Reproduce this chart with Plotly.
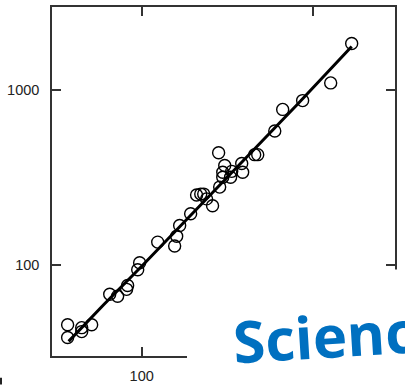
import plotly.graph_objects as go

# Scatter data (log-log axes)
x_vals = [37.0, 37.0, 44.7, 44.7, 51.1, 65.1, 72.4, 81.7, 82.8, 94.8, 97.3,
          124, 155.7, 160, 166.5, 193, 209, 221, 230, 239, 259, 285, 281,
          305, 297, 297, 330, 335, 383, 388, 456, 475, 597, 664, 868, 1265, 1677]
y_vals = [45.3, 38.3, 43.6, 41.4, 45.3, 67.8, 66.0, 72.3, 76.1, 93.7, 102.6,
          134.8, 128, 145.7, 168, 196, 251, 254, 254, 238.5, 217.8, 278.6, 438.8,
          370.8, 338.6, 317, 317, 342.9, 380.6, 338.6, 427.5, 427.5, 584, 776.6,
          872.5, 1102, 1853]

# Fitted line
line_x = [37.5, 60, 100, 204, 400, 800, 1677]
line_y = [36.4, 59, 98, 204, 405, 820, 1781]

tick_vals = [100, 1000]
tick_text = ["100", "1000"]
watermark = "Science"

L, R, T, B = 52, 10, 5, 29
W, H = 405, 389
pw, ph = W - L - R, H - T - B

def px2paper_x(px):
    return (px - L) / pw

def px2paper_y(py):
    return (H - B - py) / ph

fig = go.Figure()
fig.add_trace(go.Scatter(x=line_x, y=line_y, mode="lines",
                         line=dict(color="black", width=3), hoverinfo="skip"))
fig.add_trace(go.Scatter(x=x_vals, y=y_vals, mode="markers",
                         marker=dict(symbol="circle-open", size=12,
                                     color="black", line=dict(width=1.4))))

axis_common = dict(type="log", showgrid=False, zeroline=False, showline=True,
                   linecolor="#333", linewidth=1.5, mirror="ticks",
                   ticks="inside", ticklen=9, tickwidth=1.5, tickcolor="#333",
                   tickvals=tick_vals, ticktext=tick_text,
                   tickfont=dict(family="Liberation Sans, Arial", size=14.5, color="#222"))

fig.update_xaxes(range=[1.4771, 3.4771], ticklabelstandoff=6, **axis_common)
fig.update_yaxes(range=[1.4771, 3.4771], ticklabelstandoff=8, **axis_common)

fig.add_shape(type="rect", xref="paper", yref="paper",
              x0=px2paper_x(187), x1=1.3, y0=-0.3, y1=px2paper_y(272),
              fillcolor="white", line=dict(width=0), layer="above")
fig.add_shape(type="line", xref="paper", yref="paper",
              x0=px2paper_x(1), x1=px2paper_x(1), y0=px2paper_y(382), y1=px2paper_y(389),
              line=dict(color="#222", width=2), layer="above")

fig.add_annotation(text="<b>" + watermark + "</b>", xref="paper", yref="paper",
                   x=px2paper_x(341), y=px2paper_y(338), xanchor="center", yanchor="middle",
                   textangle=-3.5, showarrow=False,
                   font=dict(family="Open Sans", size=58, color="#0070C0"))

fig.update_layout(width=W, height=H, margin=dict(l=L, r=R, t=T, b=B),
                  plot_bgcolor="white", paper_bgcolor="white", showlegend=False)

fig.write_html("out.html", config={"displayModeBar": False},
               post_script="document.body.style.margin='0';document.body.style.overflow='hidden';")
